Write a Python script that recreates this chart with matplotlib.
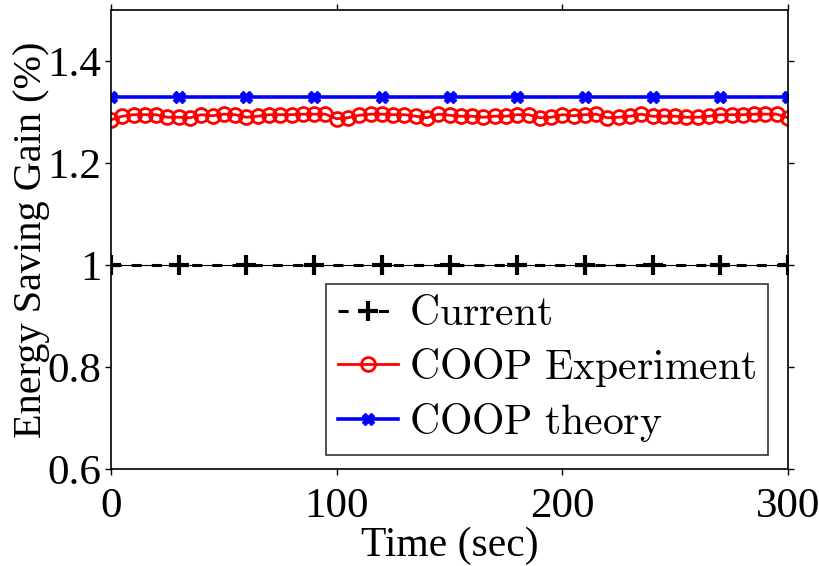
import numpy as np
import matplotlib
matplotlib.use('Agg')
import matplotlib.pyplot as plt
from matplotlib.ticker import FormatStrFormatter

# data
t_exp = np.arange(0, 301, 5)
gain_exp = [
    1.285, 1.292, 1.295, 1.295, 1.295, 1.290, 1.290, 1.289, 1.295, 1.293,
    1.296, 1.295, 1.290, 1.292, 1.295, 1.295, 1.295, 1.296, 1.296, 1.296,
    1.287, 1.289, 1.294, 1.296, 1.296, 1.295, 1.295, 1.292, 1.289, 1.296,
    1.294, 1.292, 1.292, 1.290, 1.292, 1.292, 1.295, 1.295, 1.289, 1.290,
    1.295, 1.293, 1.295, 1.296, 1.289, 1.290, 1.292, 1.296, 1.292, 1.292,
    1.292, 1.290, 1.290, 1.292, 1.295, 1.295, 1.295, 1.296, 1.296, 1.296,
    1.289,
]
t_mark = np.arange(0, 301, 30)
gain_current = [1.0] * len(t_mark)
gain_theory = [1.33] * len(t_mark)

labels = [r'$\mathrm{Current}$', r'$\mathrm{COOP\ Experiment}$',
          r'$\mathrm{COOP\ theory}$']

plt.rcParams['font.family'] = ['Liberation Serif', 'DejaVu Serif']
plt.rcParams['mathtext.fontset'] = 'cm'

fig = plt.figure(figsize=(8.2, 5.66), dpi=100)
ax = fig.add_axes([0.1354, 0.1714, 0.8256, 0.8106])

# thin solid baseline under the dashed one
ax.plot(t_mark, gain_current, color='black', linewidth=0.8)
ax.plot(t_mark, gain_current, color='black', linestyle=(0, (3.3, 3.3)),
        linewidth=2.2, marker='+', markersize=14, markeredgewidth=3,
        label=labels[0])
ax.plot(t_exp, gain_exp, color='red', linewidth=2, marker='o',
        markersize=10, markerfacecolor='none', markeredgewidth=2,
        label=labels[1])
ax.plot(t_mark, gain_theory, color='blue', linewidth=2.6, marker='X',
        markersize=8, label=labels[2])

ax.set_xlim(0, 300)
ax.set_ylim(0.6, 1.5)
ax.set_xticks([0, 100, 200, 300])
ax.set_yticks([0.6, 0.8, 1.0, 1.2, 1.4])
ax.yaxis.set_major_formatter(FormatStrFormatter('%g'))
ax.tick_params(direction='out', length=4, width=1, top=True, right=True,
               labelsize=31, pad=3)
ax.tick_params(axis='x', pad=9)
for s in ax.spines.values():
    s.set_linewidth(1.2)

ax.set_xlabel('Time (sec)', fontsize=30, labelpad=1)
ax.set_ylabel('Energy Saving Gain (%)', fontsize=29, labelpad=-2)

leg = ax.legend(loc='lower right', bbox_to_anchor=(0.97, 0.03), fontsize=30,
                frameon=True, fancybox=False, handlelength=1.45,
                handletextpad=0.25, labelspacing=0.28, borderpad=0.28,
                borderaxespad=0)
leg.get_frame().set_edgecolor('black')
leg.get_frame().set_linewidth(1.2)

fig.savefig('out.png', dpi=100)
